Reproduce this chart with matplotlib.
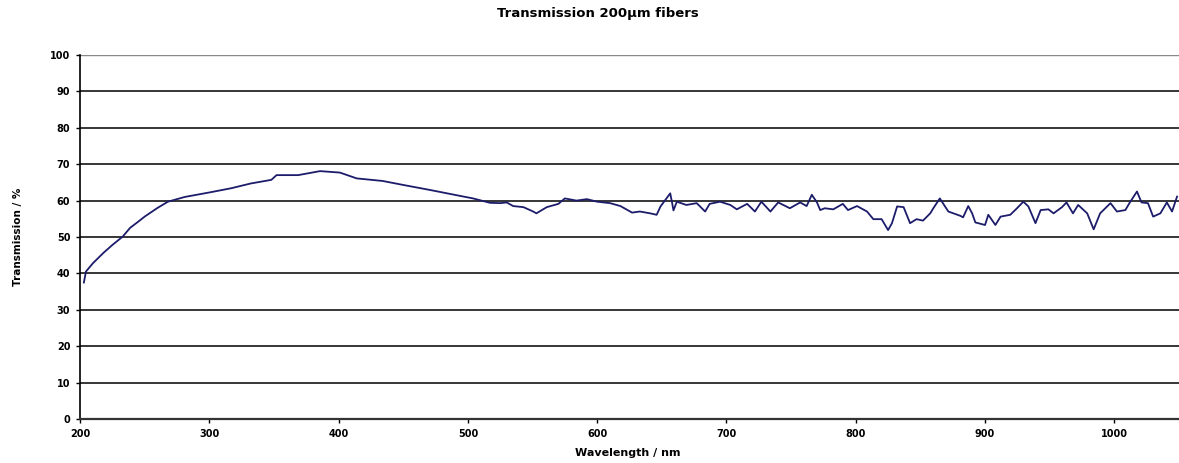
import matplotlib.pyplot as plt

# Transmission curve of a 200 um fiber
wavelength = [203, 204.6, 210, 218, 225, 233, 238.7, 245, 250, 260, 268, 281, 288.7,
              301, 317, 332, 348, 352, 362.5, 368.7, 385.7, 401, 414, 434, 450, 471,
              491, 504, 517, 525, 530, 535, 543, 550.5, 553, 561, 570, 575, 584, 592,
              600, 610, 618, 627, 633, 641, 646, 649, 656.5, 658, 659, 661.6, 669, 677,
              683.5, 687, 695, 703, 708, 716, 722, 727, 734, 740, 749, 757, 762, 766,
              770, 772.5, 776, 782.6, 790, 794, 801, 808.7, 813.6, 820, 825, 828, 832,
              837, 842, 847, 852, 857.6, 860, 865, 871.6, 881, 883, 887, 890, 892.5,
              900, 902.5, 908, 912, 919.5, 924.7, 929.6, 933.5, 939, 943, 949, 953,
              959.5, 963, 968, 972, 979, 984, 989, 997, 1002, 1008.5, 1012, 1017.5,
              1021, 1026, 1030, 1035.6, 1040.6, 1044.6, 1048.5]
transmission = [37.5, 40.5, 42.8, 45.6, 47.8, 50.1, 52.5, 54.2, 55.6, 58.0, 59.7, 61.0, 61.5,
                62.3, 63.4, 64.7, 65.7, 67.0, 67.0, 67.0, 68.1, 67.7, 66.1, 65.4, 64.3, 62.9,
                61.5, 60.6, 59.4, 59.3, 59.5, 58.5, 58.2, 57.0, 56.5, 58.2, 59.1, 60.6, 60.0, 60.4,
                59.7, 59.3, 58.5, 56.7, 57.0, 56.5, 56.1, 58.4, 62.0, 59.3, 57.3, 59.7, 58.8, 59.3,
                57.0, 59.1, 59.7, 58.8, 57.6, 59.1, 57.0, 59.7, 57.0, 59.5, 57.9, 59.5, 58.5, 61.6,
                59.5, 57.4, 57.9, 57.6, 59.1, 57.4, 58.5, 57.0, 54.9, 54.9, 51.9, 53.8, 58.4,
                58.2, 53.8, 54.9, 54.5, 56.5, 57.9, 60.6, 57.0, 55.8, 55.4, 58.5, 56.5, 54.0,
                53.3, 56.1, 53.3, 55.6, 56.1, 57.9, 59.7, 58.4, 53.8, 57.4, 57.6, 56.5,
                58.2, 59.5, 56.5, 58.8, 56.5, 52.1, 56.5, 59.3, 57.0, 57.4, 59.5, 62.5,
                59.5, 59.3, 55.6, 56.5, 59.5, 57.0, 61.1]

x_ticks = [200, 300, 400, 500, 600, 700, 800, 900, 1000]
y_ticks = [0, 10, 20, 30, 40, 50, 60, 70, 80, 90, 100]

fig = plt.figure(figsize=(11.79, 4.63), dpi=100)
ax = fig.add_axes([80 / 1179, 44 / 463, 1 - 80 / 1179, 364 / 463])

ax.plot(wavelength, transmission, color='#1c1c6b', linewidth=1.3)

ax.set_xlim(200, 1050)
ax.set_ylim(0, 100)
ax.set_xticks(x_ticks)
ax.set_yticks(y_ticks)
ax.set_xticklabels([str(v) for v in x_ticks], fontsize=7, fontweight='bold')
ax.set_yticklabels([str(v) for v in y_ticks], fontsize=7, fontweight='bold')
ax.tick_params(axis='both', direction='out', length=3, width=1, pad=4)

# horizontal grid lines
for v in y_ticks[1:-1]:
    ax.axhline(v, color='black', linewidth=1.1, zorder=0)
ax.axhline(100, color='#888888', linewidth=1.0, zorder=0)

ax.spines['top'].set_visible(False)
ax.spines['right'].set_visible(False)
ax.spines['left'].set_linewidth(1.2)
ax.spines['bottom'].set_linewidth(1.6)
ax.spines['bottom'].set_color('#333333')

fig.text(598 / 1179, 1 - 14 / 463, 'Transmission 200µm fibers', ha='center', va='center',
         fontsize=9.5, fontweight='bold')
fig.text(628 / 1179, 1 - 453 / 463, 'Wavelength / nm', ha='center', va='center',
         fontsize=8, fontweight='bold')
fig.text(18 / 1179, 1 - 237 / 463, 'Transmission / %', ha='center', va='center',
         rotation=90, fontsize=7.5, fontweight='bold')

plt.savefig('out.png', dpi=100)
plt.close()
